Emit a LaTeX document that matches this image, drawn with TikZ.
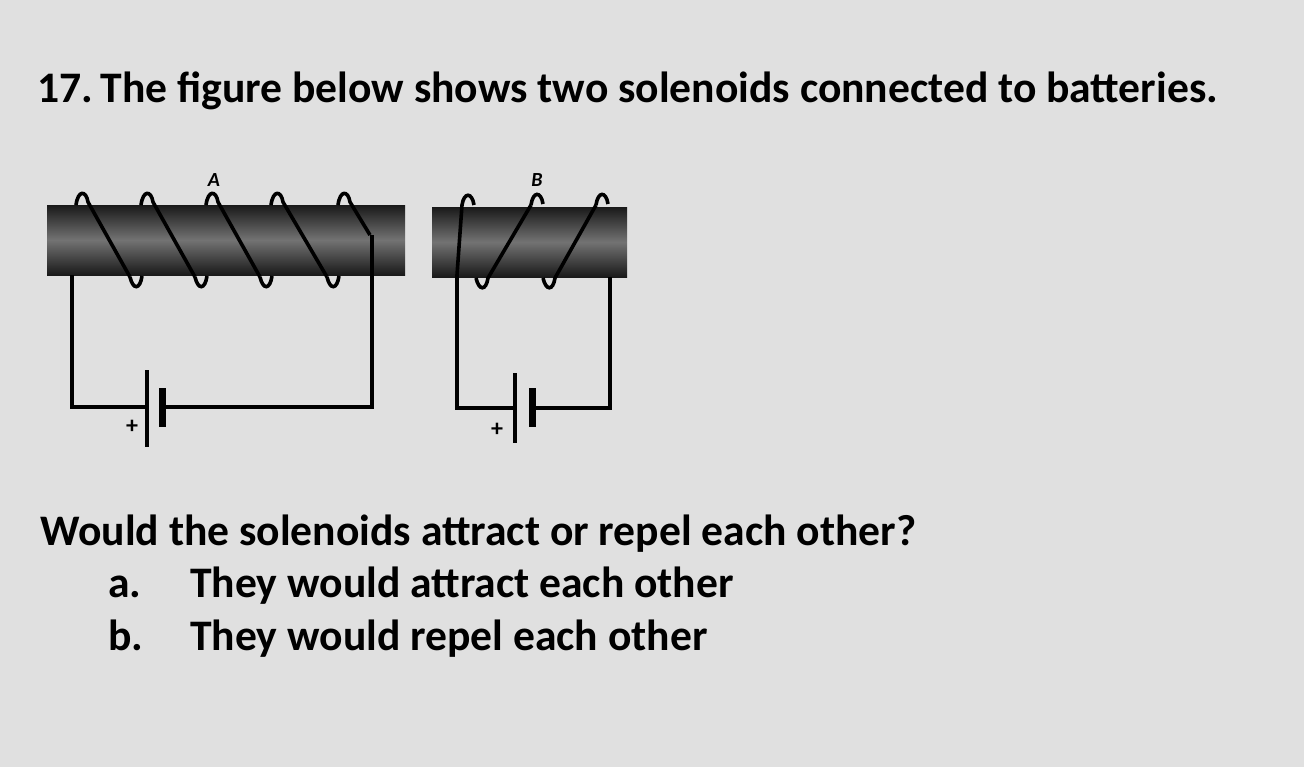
\documentclass[tikz,border=0pt]{standalone}
\usepackage{fontspec}
\setmainfont{Carlito}
\begin{document}
\begin{tikzpicture}[x=0.5pt,y=-0.5pt,
  wire/.style={line width=1.8pt,black},
  rod/.style={top color=black!90,bottom color=black!90,middle color=black!55},
  txt/.style={anchor=base west,inner sep=0,font=\fontsize{21.8}{25}\selectfont\bfseries}]
\useasboundingbox[fill=black!12] (0,0) rectangle (1304,767);
\node[txt] (title) at (37,102) {17.\,The figure below shows two solenoids connected to batteries.};
% rods
\shade[rod] (47,205) rectangle (405,275);
\shade[rod] (432,207) rectangle (627,277);
\node[font=\itshape\bfseries] (la) at (214,180) {A};
\node[font=\itshape\bfseries] (lb) at (537,180) {B};
% coil A
\foreach \t/\b in {82/136,147/201,212/266,277/333}{
  \draw[wire] (\t-6,205) .. controls (\t-4,190) and (\t+4,190) .. (\t+6,202) -- (\b-6,277);
  \draw[wire] (\b-6,277) .. controls (\b-3,290) and (\b+4,290) .. (\b+6,276);
}
\draw[wire] (338,205) .. controls (340,190) and (348,190) .. (350,202) -- (370,235);
% coil B
\draw[wire] (457,275) -- (462,205) .. controls (464,192) and (472,192) .. (474,205);
\foreach \b/\t in {482/536,549/601}{
  \draw[wire] (\b-6,278) .. controls (\b-3,291) and (\b+4,291) .. (\b+6,278) -- (\t-5,205);
  \draw[wire] (\t-5,205) .. controls (\t-3,191) and (\t+5,191) .. (\t+7,204);
}
% circuit A
\coordinate (a1) at (72,275); \coordinate (a2) at (72,407);
\coordinate (a3) at (147,407); \coordinate (a4) at (162,407);
\coordinate (a5) at (372,407); \coordinate (a6) at (372,235);
\draw[wire] (a1) -- (a2) -- (a3); \draw[wire] (a4) -- (a5) -- (a6);
\draw[line width=2pt] (147,370) -- (147,447);
\draw[line width=3.5pt] (162,388) -- (162,427);
\node[font=\bfseries\large] (pa) at (132,427) {+};
% circuit B
\coordinate (b1) at (457,275); \coordinate (b2) at (457,408);
\coordinate (b3) at (515,408); \coordinate (b4) at (532,408);
\coordinate (b5) at (610,408); \coordinate (b6) at (610,277);
\draw[wire] (b1) -- (b2) -- (b3); \draw[wire] (b4) -- (b5) -- (b6);
\draw[line width=2pt] (515,373) -- (515,443);
\draw[line width=3.5pt] (532,388) -- (532,427);
\node[font=\bfseries\large] (pb) at (497,430) {+};
% question
\node[txt] (q) at (40,545) {Would the solenoids attract or repel each other?};
\node[txt] (oa) at (108,597) {a.};
\node[txt] (ta) at (190,597) {They would attract each other};
\node[txt] (ob) at (108,650) {b.};
\node[txt] (tb) at (190,650) {They would repel each other};
\end{tikzpicture}
\end{document}
